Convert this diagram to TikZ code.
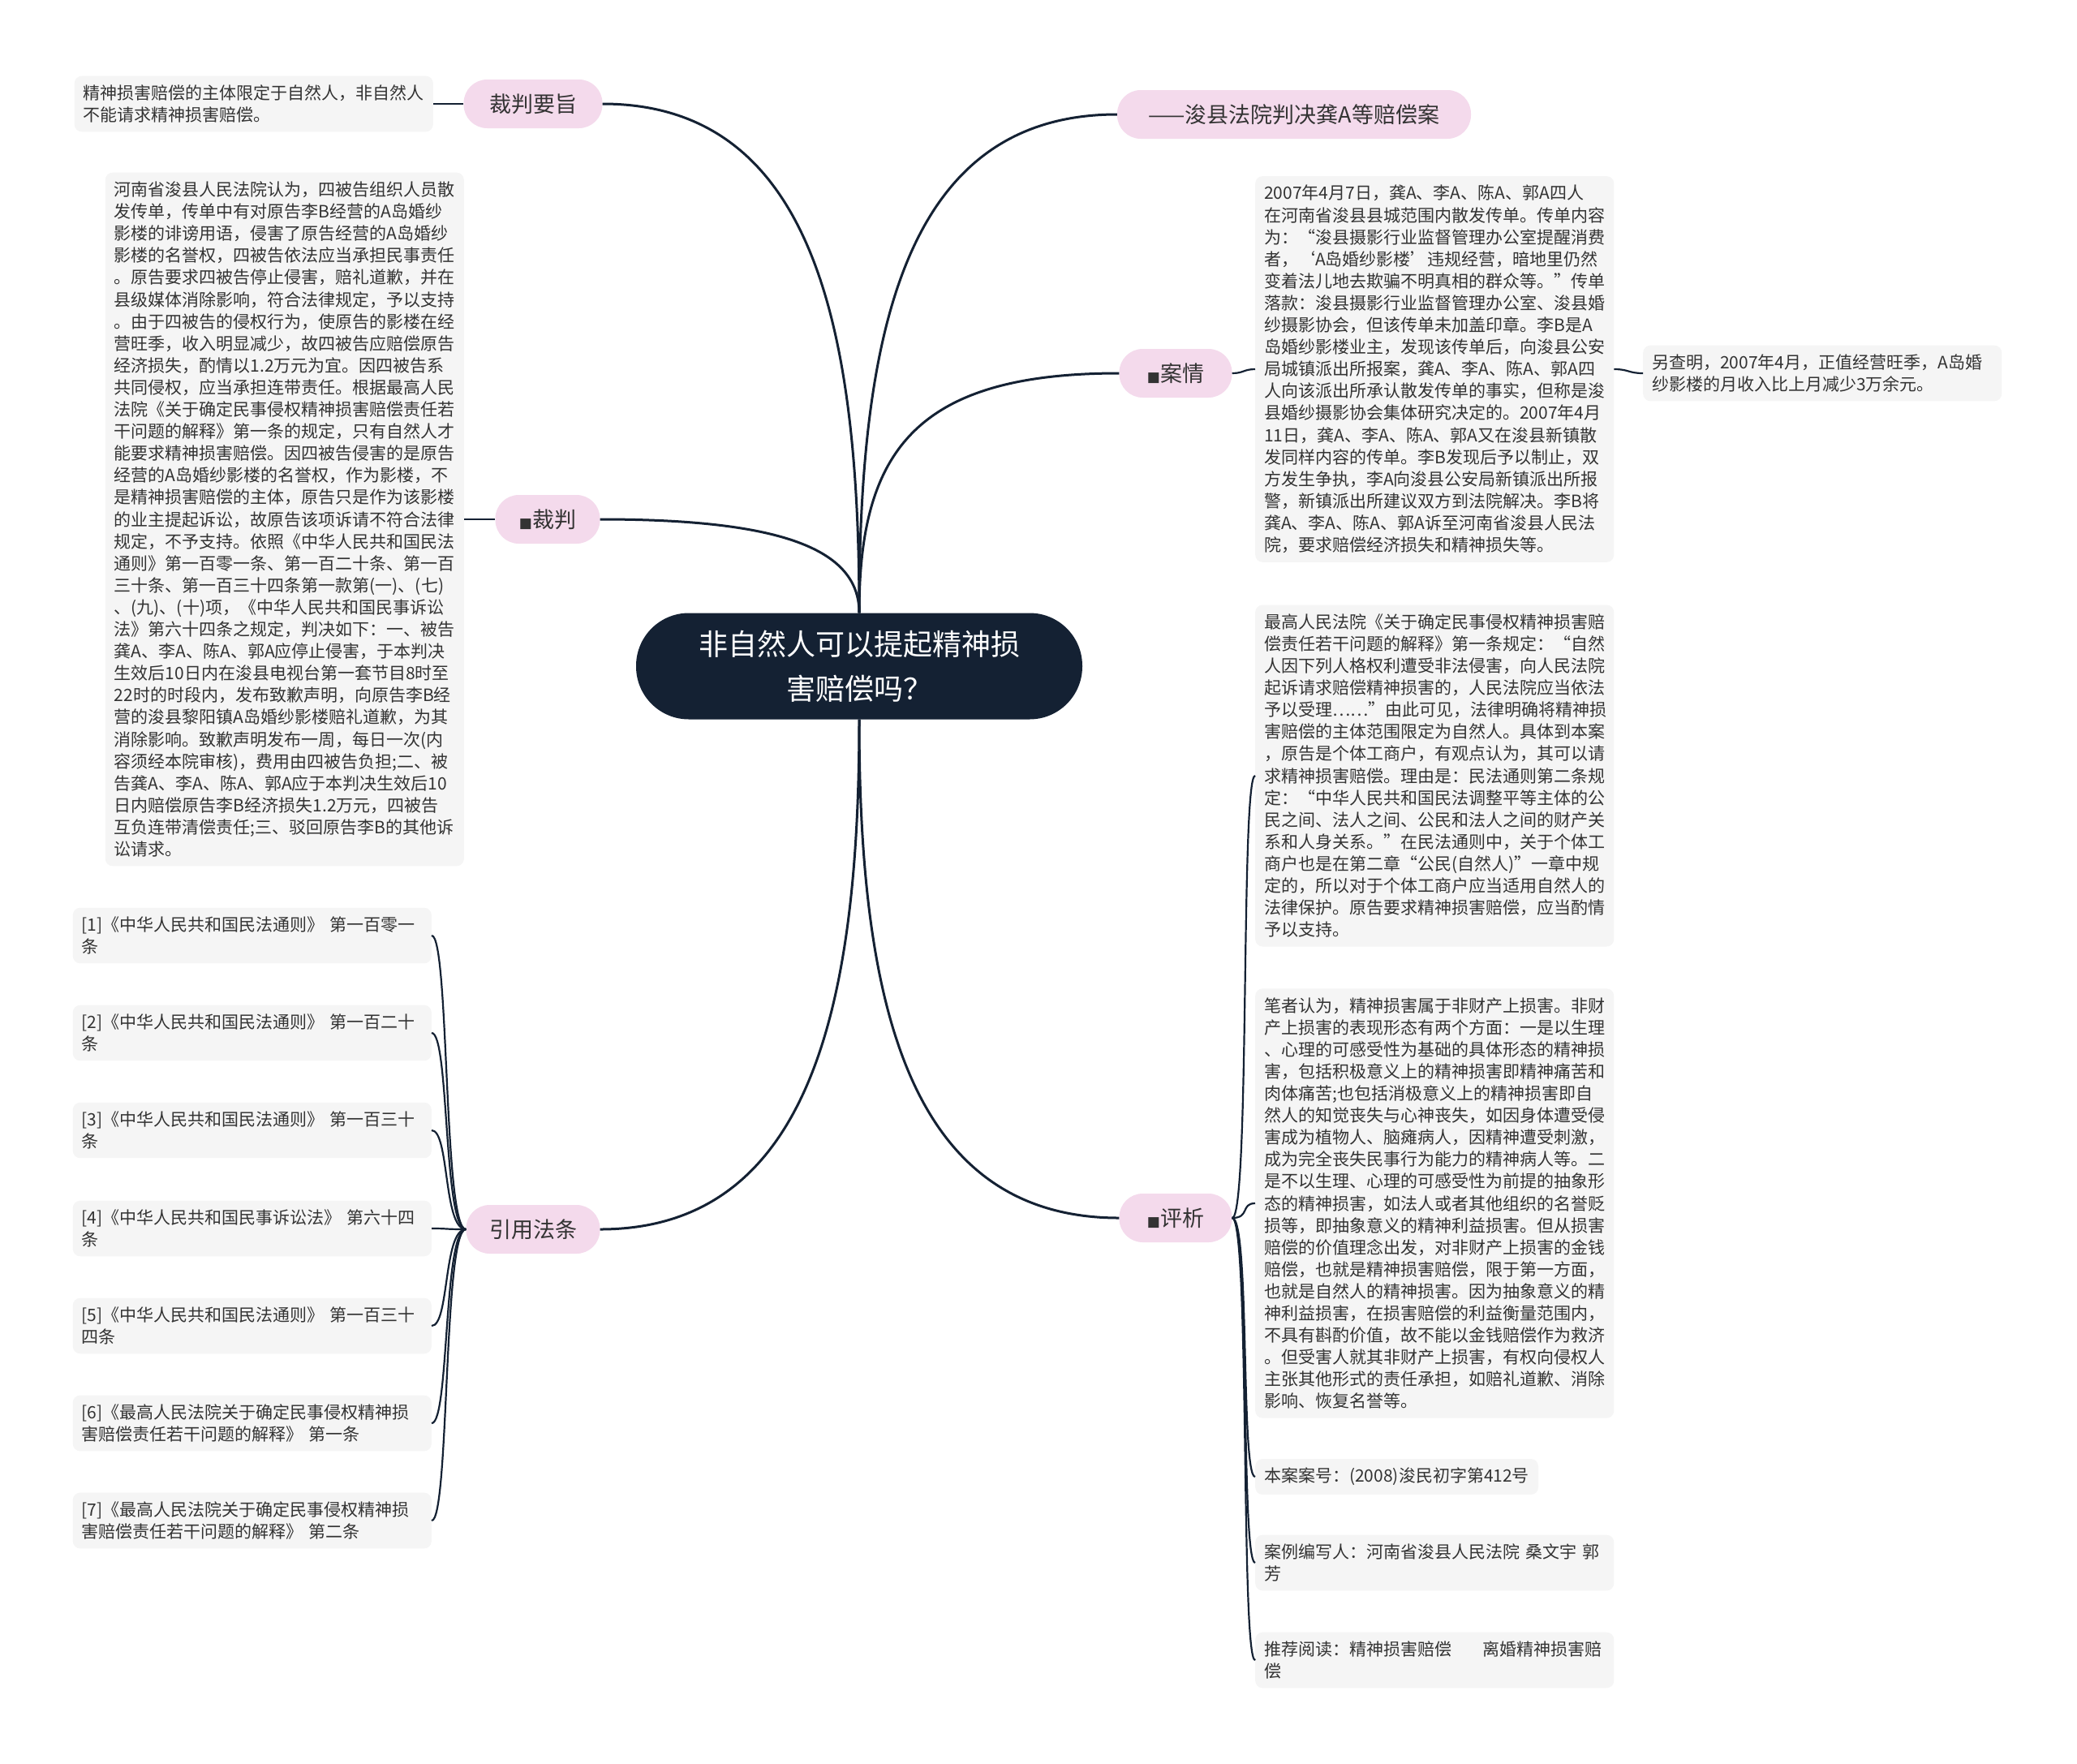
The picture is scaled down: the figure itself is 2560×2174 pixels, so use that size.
\documentclass[tikz,border=0pt]{standalone}
\usepackage{fontspec}
\setmainfont{Noto Sans CJK SC}
\newfontfamily\markfont{DejaVu Sans}
\definecolor{rootblue}{HTML}{142133}
\definecolor{branchpink}{HTML}{F4DAEC}
\definecolor{leafgray}{HTML}{F5F5F5}
\definecolor{inkgray}{HTML}{333333}
\newcommand{\sqmark}{{\markfont\fontsize{17}{17}\selectfont ■}}
\begin{document}
\begin{tikzpicture}[x=1pt,y=-1pt,
  root/.style={fill=rootblue, text=white, rounded corners=65pt, minimum width=550pt, minimum height=131pt, align=center, font=\fontsize{36}{55}\selectfont},
  branch/.style={fill=branchpink, text=inkgray, rounded corners=29pt, minimum height=60pt, inner xsep=28pt, font=\fontsize{27}{32}\selectfont},
  card/.style={fill=leafgray, text=inkgray, rounded corners=9pt, inner xsep=11pt, inner ysep=11pt, align=left, font=\fontsize{21}{27.1}\selectfont},
  leaf/.style={card, text width=420pt},
  link/.style={draw=rootblue, line width=3pt},
  twig/.style={draw=rootblue, line width=2.2pt}]
\fill[white] (0,0) rectangle (2560,2174);
\useasboundingbox (0,0) rectangle (2560,2174);

\node[root] (c) at (1059,821) {非自然人可以提起精神损\\害赔偿吗？};

\node[branch, minimum width=171pt] (zy) at (657,128) {裁判要旨};
\node[branch, minimum width=129pt] (cp) at (675,640) {\sqmark 裁判};
\node[branch, minimum width=165pt] (yy) at (657,1515) {引用法条};
\node[branch, minimum width=436pt] (ba) at (1595,141) {——浚县法院判决龚A等赔偿案};
\node[branch, minimum width=139pt] (aq) at (1449,460) {\sqmark 案情};
\node[branch, minimum width=139pt] (px) at (1449,1501) {\sqmark 评析};

\node[leaf, anchor=east] (zyt) at (534,128) {精神损害赔偿的主体限定于自然人，非自然人\\不能请求精神损害赔偿。};
\node[leaf, anchor=east] (cpt) at (572,640) {河南省浚县人民法院认为，四被告组织人员散\\发传单，传单中有对原告李B经营的A岛婚纱\\影楼的诽谤用语，侵害了原告经营的A岛婚纱\\影楼的名誉权，四被告依法应当承担民事责任\\。原告要求四被告停止侵害，赔礼道歉，并在\\县级媒体消除影响，符合法律规定，予以支持\\。由于四被告的侵权行为，使原告的影楼在经\\营旺季，收入明显减少，故四被告应赔偿原告\\经济损失，酌情以1.2万元为宜。因四被告系\\共同侵权，应当承担连带责任。根据最高人民\\法院《关于确定民事侵权精神损害赔偿责任若\\干问题的解释》第一条的规定，只有自然人才\\能要求精神损害赔偿。因四被告侵害的是原告\\经营的A岛婚纱影楼的名誉权，作为影楼，不\\是精神损害赔偿的主体，原告只是作为该影楼\\的业主提起诉讼，故原告该项诉请不符合法律\\规定，不予支持。依照《中华人民共和国民法\\通则》第一百零一条、第一百二十条、第一百\\三十条、第一百三十四条第一款第(一)、(七)\\、(九)、(十)项，《中华人民共和国民事诉讼\\法》第六十四条之规定，判决如下：一、被告\\龚A、李A、陈A、郭A应停止侵害，于本判决\\生效后10日内在浚县电视台第一套节目8时至\\22时的时段内，发布致歉声明，向原告李B经\\营的浚县黎阳镇A岛婚纱影楼赔礼道歉，为其\\消除影响。致歉声明发布一周，每日一次(内\\容须经本院审核)，费用由四被告负担;二、被\\告龚A、李A、陈A、郭A应于本判决生效后10\\日内赔偿原告李B经济损失1.2万元，四被告\\互负连带清偿责任;三、驳回原告李B的其他诉\\讼请求。};
\node[leaf, anchor=east] (r1) at (532,1153) {[1]《中华人民共和国民法通则》 第一百零一\\条};
\node[leaf, anchor=east] (r2) at (532,1273) {[2]《中华人民共和国民法通则》 第一百二十\\条};
\node[leaf, anchor=east] (r3) at (532,1393) {[3]《中华人民共和国民法通则》 第一百三十\\条};
\node[leaf, anchor=east] (r4) at (532,1514) {[4]《中华人民共和国民事诉讼法》 第六十四\\条};
\node[leaf, anchor=east] (r5) at (532,1634) {[5]《中华人民共和国民法通则》 第一百三十\\四条};
\node[leaf, anchor=east] (r6) at (532,1754) {[6]《最高人民法院关于确定民事侵权精神损\\害赔偿责任若干问题的解释》 第一条};
\node[leaf, anchor=east] (r7) at (532,1874) {[7]《最高人民法院关于确定民事侵权精神损\\害赔偿责任若干问题的解释》 第二条};

\node[leaf, anchor=west] (aqt) at (1547,455) {2007年4月7日，龚A、李A、陈A、郭A四人\\在河南省浚县县城范围内散发传单。传单内容\\为：“浚县摄影行业监督管理办公室提醒消费\\者，‘A岛婚纱影楼’违规经营，暗地里仍然\\变着法儿地去欺骗不明真相的群众等。”传单\\落款：浚县摄影行业监督管理办公室、浚县婚\\纱摄影协会，但该传单未加盖印章。李B是A\\岛婚纱影楼业主，发现该传单后，向浚县公安\\局城镇派出所报案，龚A、李A、陈A、郭A四\\人向该派出所承认散发传单的事实，但称是浚\\县婚纱摄影协会集体研究决定的。2007年4月\\11日，龚A、李A、陈A、郭A又在浚县新镇散\\发同样内容的传单。李B发现后予以制止，双\\方发生争执，李A向浚县公安局新镇派出所报\\警，新镇派出所建议双方到法院解决。李B将\\龚A、李A、陈A、郭A诉至河南省浚县人民法\\院，要求赔偿经济损失和精神损失等。};
\node[leaf, anchor=west] (aqm) at (2025,460) {另查明，2007年4月，正值经营旺季，A岛婚\\纱影楼的月收入比上月减少3万余元。};
\node[leaf, anchor=west] (pxa) at (1547,956) {最高人民法院《关于确定民事侵权精神损害赔\\偿责任若干问题的解释》第一条规定：“自然\\人因下列人格权利遭受非法侵害，向人民法院\\起诉请求赔偿精神损害的，人民法院应当依法\\予以受理……”由此可见，法律明确将精神损\\害赔偿的主体范围限定为自然人。具体到本案\\，原告是个体工商户，有观点认为，其可以请\\求精神损害赔偿。理由是：民法通则第二条规\\定：“中华人民共和国民法调整平等主体的公\\民之间、法人之间、公民和法人之间的财产关\\系和人身关系。”在民法通则中，关于个体工\\商户也是在第二章“公民(自然人)”一章中规\\定的，所以对于个体工商户应当适用自然人的\\法律保护。原告要求精神损害赔偿，应当酌情\\予以支持。};
\node[leaf, anchor=west] (pxb) at (1547,1483) {笔者认为，精神损害属于非财产上损害。非财\\产上损害的表现形态有两个方面：一是以生理\\、心理的可感受性为基础的具体形态的精神损\\害，包括积极意义上的精神损害即精神痛苦和\\肉体痛苦;也包括消极意义上的精神损害即自\\然人的知觉丧失与心神丧失，如因身体遭受侵\\害成为植物人、脑瘫病人，因精神遭受刺激，\\成为完全丧失民事行为能力的精神病人等。二\\是不以生理、心理的可感受性为前提的抽象形\\态的精神损害，如法人或者其他组织的名誉贬\\损等，即抽象意义的精神利益损害。但从损害\\赔偿的价值理念出发，对非财产上损害的金钱\\赔偿，也就是精神损害赔偿，限于第一方面，\\也就是自然人的精神损害。因为抽象意义的精\\神利益损害，在损害赔偿的利益衡量范围内，\\不具有斟酌价值，故不能以金钱赔偿作为救济\\。但受害人就其非财产上损害，有权向侵权人\\主张其他形式的责任承担，如赔礼道歉、消除\\影响、恢复名誉等。};
\node[card, anchor=west] (pxc) at (1547,1820) {本案案号：(2008)浚民初字第412号};
\node[leaf, anchor=west] (pxd) at (1547,1926) {案例编写人：河南省浚县人民法院 桑文宇 郭\\芳};
\node[leaf, anchor=west] (pxe) at (1547,2046) {推荐阅读：精神损害赔偿\hspace{38pt}离婚精神损害赔\\偿};

\draw[link] (zy.east) .. controls +(260,0) and +(0,-350) .. (c.north);
\draw[link] (cp.east) .. controls +(220,0) and +(0,-80) .. (c.north);
\draw[link] (ba.west) .. controls +(-260,0) and +(0,-350) .. (c.north);
\draw[link] (aq.west) .. controls +(-250,0) and +(0,-200) .. (c.north);
\draw[link] (c.south) .. controls +(0,350) and +(260,0) .. (yy.east);
\draw[link] (c.south) .. controls +(0,350) and +(-260,0) .. (px.west);

\draw[twig] (zy.west) -- (zyt.east);
\draw[twig] (cp.west) -- (cpt.east);
\draw[twig] (yy.west) .. controls +(-28,0) and +(22,0) .. (r1.east);
\draw[twig] (yy.west) .. controls +(-28,0) and +(22,0) .. (r2.east);
\draw[twig] (yy.west) .. controls +(-28,0) and +(22,0) .. (r3.east);
\draw[twig] (yy.west) .. controls +(-28,0) and +(22,0) .. (r4.east);
\draw[twig] (yy.west) .. controls +(-28,0) and +(22,0) .. (r5.east);
\draw[twig] (yy.west) .. controls +(-28,0) and +(22,0) .. (r6.east);
\draw[twig] (yy.west) .. controls +(-28,0) and +(22,0) .. (r7.east);
\draw[twig] (aq.east) .. controls +(14,0) and +(-14,0) .. (aqt.west);
\draw[twig] (aqt.east) .. controls +(18,0) and +(-18,0) .. (aqm.west);
\draw[twig] (px.east) .. controls +(22,0) and +(-18,0) .. (pxa.west);
\draw[twig] (px.east) .. controls +(22,0) and +(-18,0) .. (pxb.west);
\draw[twig] (px.east) .. controls +(22,0) and +(-18,0) .. (pxc.west);
\draw[twig] (px.east) .. controls +(22,0) and +(-18,0) .. (pxd.west);
\draw[twig] (px.east) .. controls +(22,0) and +(-18,0) .. (pxe.west);
\end{tikzpicture}
\end{document}
